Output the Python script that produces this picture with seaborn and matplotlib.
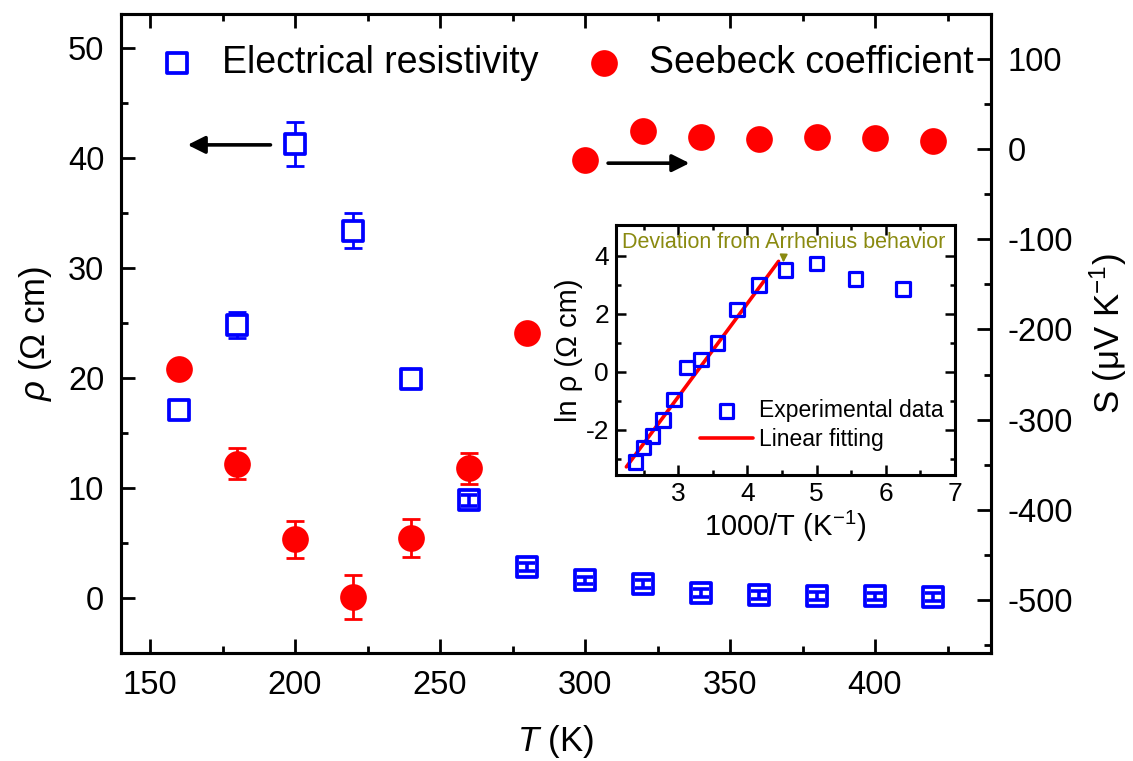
import numpy as np
import matplotlib
matplotlib.use("Agg")
import matplotlib.pyplot as plt
import seaborn as sns

# ---------------------------------------------------------------
# Data
# ---------------------------------------------------------------
T = np.array([160, 180, 200, 220, 240, 260, 280, 300, 320, 340, 360, 380, 400, 420])
rho = np.array([17.1, 24.8, 41.3, 33.4, 19.9, 8.9, 2.8, 1.6, 1.3, 0.45, 0.3, 0.2, 0.15, 0.1])
rho_err = np.array([0.5, 1.2, 2.0, 1.6, 0.7, 0.5, 0.35, 0.35, 0.35, 0.35, 0.35, 0.35, 0.35, 0.35])
S = np.array([-244, -349, -433, -497, -431, -354, -204, -12, 20, 14, 11, 14, 12, 9])
S_err = np.array([6, 17, 21, 24, 21, 17, 0, 0, 0, 0, 0, 0, 0, 0])

# inset : ln(rho) vs 1000/T
inv_T = np.array([6.25, 5.56, 5.0, 4.55, 4.17, 3.85, 3.57, 3.33, 3.13, 2.94, 2.78, 2.63, 2.5, 2.38])
ln_rho = np.array([2.85, 3.2, 3.72, 3.5, 2.98, 2.15, 1.0, 0.42, 0.15, -0.95, -1.65, -2.2, -2.6, -3.1])
fit_x = [2.25, 4.45]
fit_y = [-3.27, 3.8]

# ---------------------------------------------------------------
# Style
# ---------------------------------------------------------------
sns.set_theme(style="ticks")
plt.rcParams['font.family'] = ['Liberation Sans', 'DejaVu Sans']
plt.rcParams['mathtext.fontset'] = 'custom'
plt.rcParams['mathtext.rm'] = 'Liberation Sans'
plt.rcParams['mathtext.it'] = 'Liberation Sans:italic'
plt.rcParams['axes.unicode_minus'] = False
plt.rcParams['axes.linewidth'] = 2.0
for k in ('text.color', 'axes.labelcolor', 'xtick.color', 'ytick.color',
          'xtick.labelcolor', 'ytick.labelcolor', 'axes.edgecolor'):
    plt.rcParams[k] = 'black'

blue = '#0000FF'
red = '#FF0000'
olive = '#8A8A10'

W, H = 1133, 761
fig = plt.figure(figsize=(W / 100, H / 100), dpi=100)
fig.patch.set_facecolor('white')

ax = fig.add_axes([121 / W, 1 - 653 / H, (991 - 121) / W, (653 - 14) / H])
ax2 = ax.twinx()

# resistivity : error bars under the open squares
ax.errorbar(T, rho, yerr=rho_err, fmt='none', ecolor=blue, elinewidth=2.0,
            capsize=6.5, capthick=2.0, zorder=1.5)
sns.scatterplot(x=T, y=rho, marker='s', s=200, facecolor='white', edgecolor=blue,
                linewidth=2.7, ax=ax, zorder=2, label='Electrical resistivity', legend=False)
# tiny error bars show up inside the symbols
small = T >= 260
ax.errorbar(T[small], rho[small], yerr=rho_err[small], fmt='none', ecolor=blue,
            elinewidth=2.6, capsize=5.5, capthick=2.6, zorder=3)

# Seebeck coefficient
ax2.errorbar(T, S, yerr=S_err, fmt='none', ecolor=red, elinewidth=2.0,
             capsize=6.5, capthick=2.0, zorder=1.5)
sns.scatterplot(x=T, y=S, marker='o', s=370, color=red, linewidth=0, ax=ax2,
                zorder=2, label='Seebeck coefficient', legend=False)

ax.set_xlim(140, 440)
ax.set_ylim(-5, 53.1)
ax2.set_ylim(-559, 150)

ax.set_xticks(np.arange(150, 401, 50))
ax.set_xticks(np.arange(175, 440, 50), minor=True)
ax.set_yticks(np.arange(0, 51, 10))
ax.set_yticks(np.arange(5, 53, 10), minor=True)
ax2.set_yticks(np.arange(-500, 101, 100))
ax2.set_yticks(np.arange(-550, 150, 100), minor=True)

for a in (ax, ax2):
    a.tick_params(which='major', direction='in', length=10, width=2.0, labelsize=23.5,
                  pad=12, colors='black')
    a.tick_params(which='minor', direction='in', length=5, width=2.0, colors='black')
    for sp in a.spines.values():
        sp.set_linewidth(2.2)
        sp.set_color('black')
ax.tick_params(which='both', top=True, right=False)
ax2.tick_params(which='both', left=False, right=True)

ax.set_xlabel(r'$T$ (K)', fontsize=25, labelpad=16)
ax.set_ylabel(r'$\rho$ (Ω cm)', fontsize=25, labelpad=10)
ax2.set_ylabel(r'S (μV K$^{-1}$)', fontsize=25, labelpad=10)

# direction arrows
ax.annotate('', xy=(162, 41.2), xytext=(192.5, 41.2),
            arrowprops=dict(arrowstyle='-|>', color='black', lw=2.6, mutation_scale=26))
ax2.annotate('', xy=(337, -15.5), xytext=(307, -15.5),
             arrowprops=dict(arrowstyle='-|>', color='black', lw=2.6, mutation_scale=26))

handles = [c for c in ax.collections if c.get_label() == 'Electrical resistivity'] + \
          [c for c in ax2.collections if c.get_label() == 'Seebeck coefficient']
ax2.legend(handles, ['Electrical resistivity', 'Seebeck coefficient'], ncol=2,
           loc='center left', bbox_to_anchor=(0.026, 0.923), frameon=False,
           fontsize=27, handlelength=1.0, handletextpad=0.7, columnspacing=1.25,
           borderaxespad=0)

# ---------------------------------------------------------------
# Inset
# ---------------------------------------------------------------
axin = fig.add_axes([616 / W, 1 - 475 / H, (955 - 616) / W, (475 - 225) / H])
axin.set_facecolor('white')
sns.scatterplot(x=inv_T, y=ln_rho, marker='s', s=95, facecolor='none', edgecolor=blue,
                linewidth=2.3, ax=axin, zorder=3, label='Experimental data', legend=False)
sns.lineplot(x=fit_x, y=fit_y, color=red, lw=2.6, ax=axin, zorder=2,
             label='Linear fitting', legend=False)

axin.set_xlim(2.1, 7.0)
axin.set_ylim(-3.55, 5.05)
axin.set_xticks([3, 4, 5, 6, 7])
axin.set_xticks([2.5, 3.5, 4.5, 5.5, 6.5], minor=True)
axin.set_yticks([-2, 0, 2, 4])
axin.set_yticks([-3, -1, 1, 3], minor=True)
axin.tick_params(which='major', direction='in', length=7, width=1.8, labelsize=19, pad=5,
                 top=True, right=True, colors='black')
axin.tick_params(which='minor', direction='in', length=3.5, width=1.8, top=True, right=True,
                 colors='black')
for sp in axin.spines.values():
    sp.set_linewidth(2.2)
    sp.set_color('black')
axin.set_xlabel(r'1000/T (K$^{-1}$)', fontsize=21, labelpad=2)
axin.set_ylabel('ln ρ (Ω cm)', fontsize=21, labelpad=2)

axin.annotate('Deviation from Arrhenius behavior', xy=(4.52, 3.76), xytext=(4.53, 4.45),
              ha='center', va='center', color=olive, fontsize=15.5,
              arrowprops=dict(arrowstyle='-|>', color=olive, lw=1.3, mutation_scale=11,
                              shrinkA=0, shrinkB=0))

in_handles = [axin.collections[0], axin.lines[0]]
axin.legend(in_handles, ['Experimental data', 'Linear fitting'], loc='center left',
            bbox_to_anchor=(0.221, 0.2), frameon=False, fontsize=16.5,
            handlelength=2.3, handletextpad=0.25, labelspacing=0.25, borderaxespad=0)

fig.savefig('out.png', dpi=100, facecolor='white')
